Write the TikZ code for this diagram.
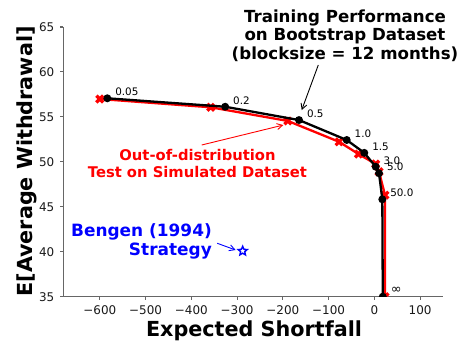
\documentclass[tikz,border=0pt]{standalone}
\usepackage{fontspec}
\setmainfont{DejaVu Sans}
\usetikzlibrary{arrows.meta,shapes.geometric}

\begin{document}
\begin{tikzpicture}[x=1bp,y=1bp,
  spine/.style={draw=black!60, line width=1.1bp},
  tickmark/.style={draw=black!60, line width=1.1bp},
  ticklbl/.style={font=\fontsize{12}{14}\selectfont, text=black!90, inner sep=0pt},
  axlbl/.style={font=\fontsize{20.8}{24}\selectfont\bfseries, inner sep=0pt},
  trainline/.style={draw=black, line width=2.3bp, line join=round},
  testline/.style={draw=red, line width=2.3bp, line join=round},
  dotmark/.style={circle, fill=black, inner sep=0pt, minimum size=8bp},
  xmark/.style={rectangle, inner sep=0pt, minimum size=10bp, path picture={
     \draw[red, line width=3.3bp]
       ([shift={(1.6bp,1.6bp)}]path picture bounding box.south west) --
       ([shift={(-1.6bp,-1.6bp)}]path picture bounding box.north east)
       ([shift={(1.6bp,-1.6bp)}]path picture bounding box.north west) --
       ([shift={(-1.6bp,1.6bp)}]path picture bounding box.south east);}},
  starmark/.style={star, star points=5, star point ratio=2.2, draw=blue,
     fill=white, line width=1.4bp, inner sep=0pt, minimum size=9.5bp},
  ptlbl/.style={font=\fontsize{10.4}{12}\selectfont, anchor=base west,
     inner sep=0pt, xshift=7.8bp, yshift=2.5bp},
  note/.style={inner sep=0pt, font=\bfseries},
  callout/.style={line width=0.9bp, -{Straight Barb[length=5.5bp,width=6bp]}},
]
\useasboundingbox (0,0) rectangle (468,345);

% ---- data area: x in units of shortfall, y = withdrawal - 35 ----
\begin{scope}[shift={(374.3bp,48.3bp)}, x=0.4575bp, y=8.99bp]
  % spines
  \draw[spine] (-680,30) -- (-680,0) -- (150,0);
  % x ticks
  \foreach \v/\t [count=\i] in {-600/−600,-500/−500,-400/−400,-300/−300,
                                -200/−200,-100/−100,0/0,100/100} {
    \draw[tickmark] (\v,0) -- ++(0,-3.5bp);
    \node[ticklbl, anchor=north] (xt\i) at ([yshift=-8.3bp]\v,0) {\t};
  }
  % y ticks
  \foreach \v [count=\i] in {35,40,...,65} {
    \draw[tickmark] (-680,{\v-35}) -- ++(-3.5bp,0);
    \node[ticklbl, anchor=east] (yt\i) at ([xshift=-8.7bp]-680,{\v-35}) {\v};
  }

  % points of the two curves
  \coordinate (b1) at (-583.6,22.07);
  \coordinate (b2) at (-326,21.13);
  \coordinate (b3) at (-164.6,19.65);
  \coordinate (b4) at (-60.3,17.43);
  \coordinate (b5) at (-21.9,16.0);
  \coordinate (b6) at (3,14.46);
  \coordinate (b7) at (10.3,13.73);
  \coordinate (b8) at (17.5,10.83);
  \coordinate (b9) at (18.5,0);

  \coordinate (r1) at (-600,21.99);
  \coordinate (r2) at (-357.6,21.07);
  \coordinate (r3) at (-189,19.55);
  \coordinate (r4) at (-77,17.23);
  \coordinate (r5) at (-34.5,15.87);
  \coordinate (r6) at (3,14.76);
  \coordinate (r7) at (10.3,13.9);
  \coordinate (r8) at (23.4,11.3);
  \coordinate (r9) at (23.4,0);

  \coordinate (bengenpt) at (-287.7,5.08);

  \begin{scope}
    \clip (-680,0) rectangle (150,30);
    % simulated (test) curve
    \draw[testline] (r1) -- (r2) -- (r3) -- (r4) -- (r5) -- (r6) -- (r7) -- (r8) -- (r9);
    \foreach \k in {1,...,9} \node[xmark] (rm\k) at (r\k) {};
    % bootstrap (training) curve
    \draw[trainline] (b1) -- (b2) -- (b3) -- (b4) -- (b5) -- (b6) -- (b7) -- (b8) -- (b9);
    \foreach \k in {1,...,9} \node[dotmark] (bm\k) at (b\k) {};
  \end{scope}

  \node[starmark] (bengen) at (bengenpt) {};

  % point labels
  \node[ptlbl] (l1) at (b1) {0.05};
  \node[ptlbl] (l2) at (b2) {0.2};
  \node[ptlbl] (l3) at (b3) {0.5};
  \node[ptlbl] (l4) at (b4) {1.0};
  \node[ptlbl] (l5) at (b5) {1.5};
  \node[ptlbl] (l6) at (b6) {3.0};
  \node[ptlbl] (l7) at (b7) {5.0};
  \node[ptlbl] (l8) at (b8) {50.0};
  \node[ptlbl, yshift=0.5bp, font=\fontsize{13}{14}\selectfont] (l9) at (b9) {∞};
\end{scope}

% axis titles
\node[axlbl, anchor=base] (xlabel) at (254,8.3) {Expected Shortfall};
\node[axlbl, anchor=base, rotate=90] (ylabel) at (32.3,183.5) {E[Average Withdrawal]};

% callouts
\node[note, anchor=north, align=center, font=\fontsize{16.7}{19}\selectfont\bfseries]
  (train) at (345,335.8) {Training Performance\\on Bootstrap Dataset\\(blocksize = 12 months)};
\node[note, anchor=north, align=center, text=red, font=\fontsize{14.8}{16.5}\selectfont\bfseries]
  (test) at (197.5,195.5) {Out-of-distribution\\Test on Simulated Dataset};
\node[note, anchor=north east, align=right, text=blue, font=\fontsize{17}{20}\selectfont\bfseries]
  (bengentxt) at (212,122) {Bengen (1994)\\Strategy};

\coordinate (trainfoot) at (318.3,280);
\coordinate (traintip) at ([shift={(2.7bp,10bp)}]b3);
\draw[callout, black] (trainfoot) -- (traintip);

\coordinate (testfoot) at (201.7,200);
\coordinate (testtip) at ([shift={(-4.5bp,-4.1bp)}]r3);
\draw[callout, red] (testfoot) -- (testtip);

\coordinate (bengenfoot) at (217.3,101.7);
\coordinate (bengentip) at ([shift={(-7bp,1bp)}]bengen.center);
\draw[callout, blue] (bengenfoot) -- (bengentip);
\end{tikzpicture}
\end{document}
